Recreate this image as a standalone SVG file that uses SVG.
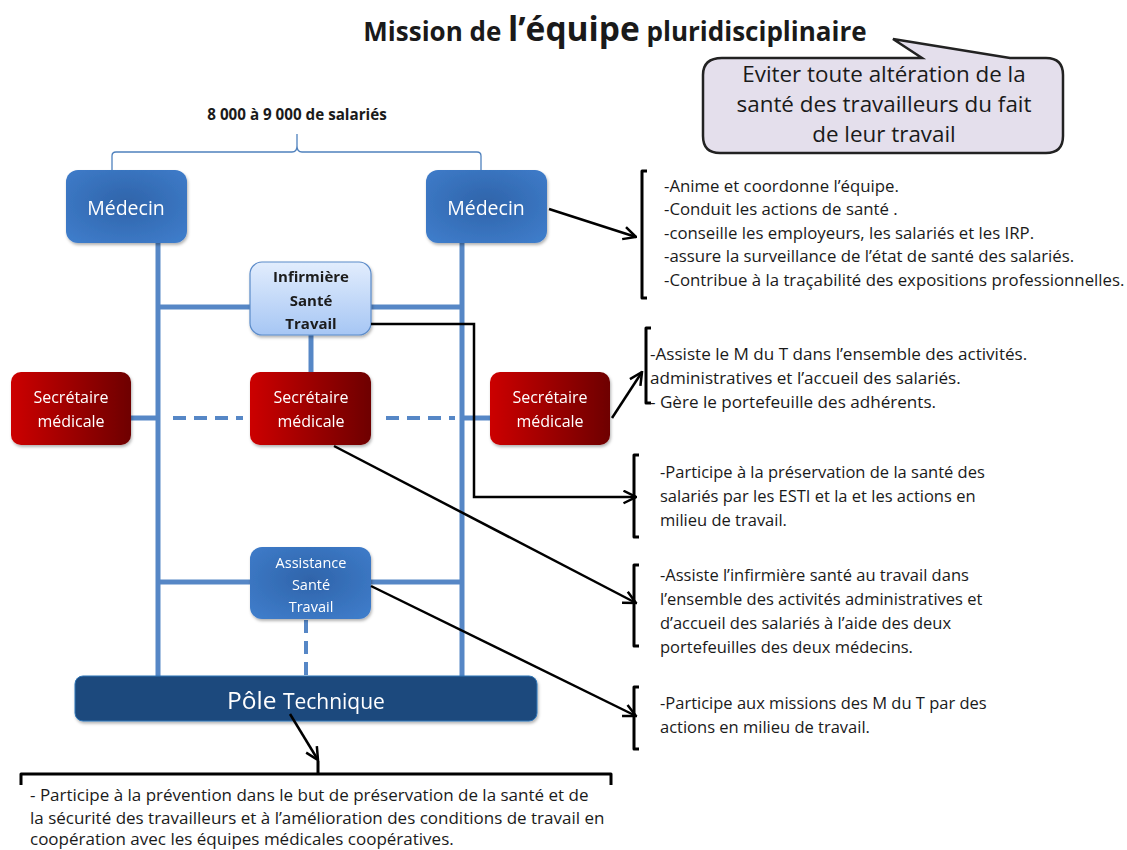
<svg xmlns="http://www.w3.org/2000/svg" width="1127" height="850" viewBox="0 0 1127 850">
<style>
.t{font-family:"Open Sans","Liberation Sans",Arial,sans-serif;fill:#1a1a1a}
.w{font-family:"Open Sans","Liberation Sans",Arial,sans-serif;fill:#fff;text-anchor:middle}
.bl{stroke:#5687c6;stroke-width:5;fill:none}
.bd{stroke:#5687c6;stroke-width:4;fill:none;stroke-dasharray:13,8}
.cn{stroke:#000;stroke-width:2.5;fill:none;marker-end:url(#ar)}
.br{stroke:#000;stroke-width:3;fill:none;stroke-linejoin:round}
</style>
<defs>
<marker id="ar" viewBox="0 0 12 12" refX="11" refY="6" markerWidth="6" markerHeight="6" orient="auto" markerUnits="strokeWidth">
<path d="M1,1 L11,6 L1,11" fill="none" stroke="#000" stroke-width="2"/>
</marker>
<radialGradient id="gBlue" cx="0.5" cy="0.45" r="0.7">
<stop offset="0" stop-color="#2f64aa"/><stop offset="1" stop-color="#3f7dcb"/>
</radialGradient>
<linearGradient id="gInf" x1="0" y1="0" x2="0" y2="1">
<stop offset="0" stop-color="#e2edfd"/><stop offset="1" stop-color="#a6c6f4"/>
</linearGradient>
<linearGradient id="gRed" x1="0" y1="0" x2="1" y2="0">
<stop offset="0" stop-color="#cc0000"/><stop offset="1" stop-color="#6e0000"/>
</linearGradient>
<filter id="sh" x="-10%" y="-10%" width="130%" height="140%">
<feDropShadow dx="1" dy="2" stdDeviation="1.5" flood-color="#000" flood-opacity="0.3"/>
</filter>
</defs>

<text x="615" y="41" class="t" style="font-weight:bold;font-size:26px" text-anchor="middle">Mission de <tspan style="font-size:33.5px">l’équipe</tspan> pluridisciplinaire</text>

<g id="callout">
<path d="M722,58 L922,58 L893,39 L1010,58 L1046,58 Q1063,58 1063,75 L1063,136 Q1063,153 1046,153 L720,153 Q703,153 703,136 L703,75 Q703,58 722,58 Z" fill="#e4dfec" stroke="#222" stroke-width="2.5"/>
<text class="t" style="font-size:22.4px" text-anchor="middle"><tspan x="884" y="82">Eviter toute altération de la</tspan><tspan x="884" y="112">santé des travailleurs du fait</tspan><tspan x="884" y="142">de leur travail</tspan></text>
</g>

<g id="salaries">
<text x="297" y="120" class="t" style="font-weight:bold;font-size:15.2px" text-anchor="middle">8 000 à 9 000 de salariés</text>
<path d="M112,170 L112,156 Q112,152 116,152 L292,152 Q297,152 297,146 L297,134 M297,146 Q297,152 302,152 L477,152 Q481,152 481,156 L481,170" fill="none" stroke="#4f81bd" stroke-width="1.3"/>
</g>

<g id="lines">
<line x1="158" y1="243" x2="158" y2="676" class="bl"/>
<line x1="462" y1="243" x2="462" y2="676" class="bl"/>
<line x1="158" y1="307" x2="462" y2="307" class="bl"/>
<line x1="311" y1="334" x2="311" y2="372" class="bl"/>
<line x1="131" y1="418" x2="158" y2="418" class="bl"/>
<line x1="462" y1="418" x2="490" y2="418" class="bl"/>
<line x1="173" y1="418" x2="243" y2="418" class="bd"/>
<line x1="386" y1="418" x2="455" y2="418" class="bd"/>
<line x1="158" y1="582" x2="462" y2="582" class="bl"/>
<line x1="306" y1="620" x2="306" y2="676" class="bd"/>
</g>

<g id="medecin1" filter="url(#sh)">
<rect x="66" y="170" width="121" height="73" rx="12" fill="url(#gBlue)"/>
<text x="126" y="215" class="w" style="font-size:19.5px">Médecin</text>
</g>
<g id="medecin2" filter="url(#sh)">
<rect x="426" y="170" width="121" height="73" rx="12" fill="url(#gBlue)"/>
<text x="486" y="215" class="w" style="font-size:19.5px">Médecin</text>
</g>

<g id="infirmiere" filter="url(#sh)">
<rect x="250" y="262" width="121" height="73" rx="12" fill="url(#gInf)" stroke="#5b8bc9" stroke-width="1.2"/>
<text class="t" style="font-weight:bold;font-size:15px" text-anchor="middle"><tspan x="311" y="282">Infirmière</tspan><tspan x="311" y="306">Santé</tspan><tspan x="311" y="329">Travail</tspan></text>
</g>

<g id="secretaire1" filter="url(#sh)">
<rect x="11" y="372" width="120" height="73" rx="10" fill="url(#gRed)"/>
<text class="w" style="font-size:16px"><tspan x="71" y="403">Secrétaire</tspan><tspan x="71" y="427">médicale</tspan></text>
</g>
<g id="secretaire2" filter="url(#sh)">
<rect x="250" y="372" width="121" height="73" rx="10" fill="url(#gRed)"/>
<text class="w" style="font-size:16px"><tspan x="311" y="403">Secrétaire</tspan><tspan x="311" y="427">médicale</tspan></text>
</g>
<g id="secretaire3" filter="url(#sh)">
<rect x="490" y="372" width="120" height="73" rx="10" fill="url(#gRed)"/>
<text class="w" style="font-size:16px"><tspan x="550" y="403">Secrétaire</tspan><tspan x="550" y="427">médicale</tspan></text>
</g>

<g id="assistance" filter="url(#sh)">
<rect x="250" y="547" width="121" height="72" rx="12" fill="url(#gBlue)"/>
<text class="w" style="font-size:14.5px"><tspan x="311" y="568">Assistance</tspan><tspan x="311" y="590">Santé</tspan><tspan x="311" y="612">Travail</tspan></text>
</g>

<g id="pole" filter="url(#sh)">
<rect x="75" y="676" width="462" height="45" rx="8" fill="#1f497d" stroke="#2e75b6" stroke-width="1"/>
<text x="306" y="709" class="w" style="font-size:24.5px">Pôle <tspan style="font-size:21px">Technique</tspan></text>
</g>

<g id="connectors">
<line x1="549" y1="209" x2="636" y2="237" class="cn"/>
<line x1="612" y1="418" x2="642" y2="372" class="cn"/>
<polyline points="371,324 474,324 474,497 636,497" class="cn"/>
<line x1="334" y1="446" x2="636" y2="603" class="cn"/>
<line x1="371" y1="586" x2="636" y2="716" class="cn"/>
<line x1="290" y1="714" x2="318" y2="760" class="cn"/>
</g>

<g id="brackets">
<path d="M647,171 L642,171 L642,298 L647,298" class="br"/>
<path d="M651,328 L646,328 L646,403 L651,403" class="br"/>
<path d="M639,455 L634,455 L634,537 L639,537" class="br"/>
<path d="M639,565 L634,565 L634,646 L639,646" class="br"/>
<path d="M639,687 L634,687 L634,749 L639,749" class="br"/>
<path d="M21,785 L21,774 L611,774 L611,785 M318,774 L318,761" class="br"/>
</g>

<g id="texts" class="t">
<text style="font-size:16.8px"><tspan x="664" y="192">-Anime et coordonne l’équipe.</tspan><tspan x="664" y="215">-Conduit les actions de santé .</tspan><tspan x="664" y="239">-conseille les employeurs, les salariés et les IRP.</tspan><tspan x="664" y="262">-assure la surveillance de l’état de santé des salariés.</tspan><tspan x="664" y="286">-Contribue à la traçabilité des expositions professionnelles.</tspan></text>
<text style="font-size:17.1px"><tspan x="650" y="360">-Assiste le M du T dans l’ensemble des activités.</tspan><tspan x="650" y="384">administratives et l’accueil des salariés.</tspan><tspan x="650" y="408">- Gère le portefeuille des adhérents.</tspan></text>
<text style="font-size:16.5px"><tspan x="660" y="478">-Participe à la préservation de la santé des</tspan><tspan x="660" y="502">salariés par les ESTI et la et les actions en</tspan><tspan x="660" y="526">milieu de travail.</tspan></text>
<text style="font-size:16.5px"><tspan x="660" y="581">-Assiste l’infirmière santé au travail dans</tspan><tspan x="660" y="605">l’ensemble des activités administratives et</tspan><tspan x="660" y="629">d’accueil des salariés à l’aide des deux</tspan><tspan x="660" y="653">portefeuilles des deux médecins.</tspan></text>
<text style="font-size:16.5px"><tspan x="660" y="709">-Participe aux missions des M du T par des</tspan><tspan x="660" y="733">actions en milieu de travail.</tspan></text>
<text style="font-size:17px"><tspan x="30" y="801">- Participe à la prévention dans le but de préservation de la santé et de</tspan><tspan x="30" y="824">la sécurité des travailleurs et à l’amélioration des conditions de travail en</tspan><tspan x="30" y="845">coopération avec les équipes médicales coopératives.</tspan></text>
</g>
</svg>
